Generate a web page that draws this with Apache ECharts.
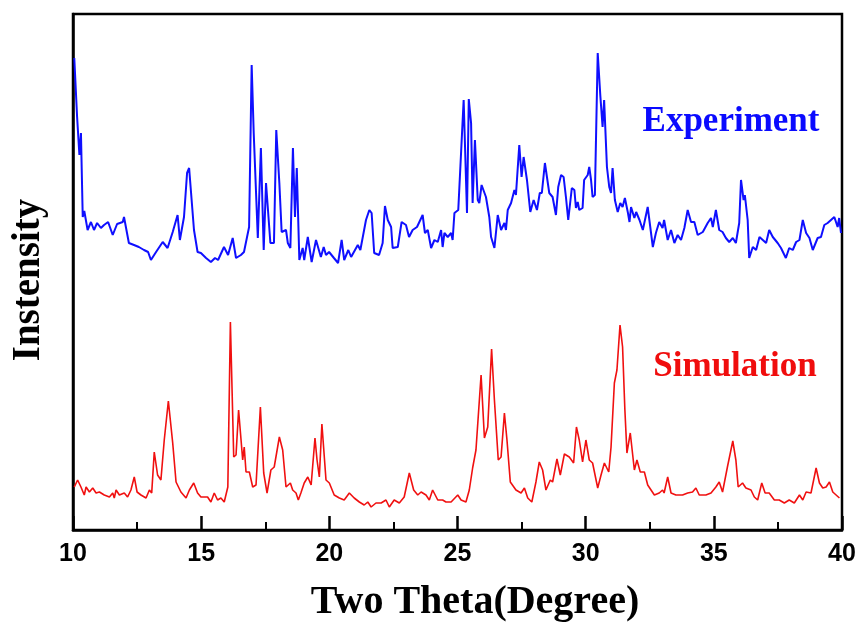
<!DOCTYPE html>
<html>
<head>
<meta charset="utf-8">
<script src="https://cdn.jsdelivr.net/npm/echarts@6/dist/echarts.min.js"></script>
<style>html,body{margin:0;padding:0;background:#fff}#c{width:860px;height:627px}</style>
</head>
<body>
<div id="c"></div>
<script>
// Two-theta (degree) tick labels
var xTicks = [10, 15, 20, 25, 30, 35, 40];

// Experiment pattern: [2theta, intensity (a.u.)]
var experiment = [
[10.05,472],[10.16,413],[10.25,375],[10.31,397],[10.38,313],[10.44,319],[10.57,300],[10.70,308],[10.82,300],[10.94,307],
[11.09,302],[11.21,305],[11.37,308],[11.55,295],[11.72,306],[11.94,308],[11.99,313],[12.18,287],[12.38,285],[12.57,283],
[12.77,280],[12.93,278],[13.04,270],[13.24,278],[13.50,288],[13.69,282],[13.89,298],[14.08,315],[14.17,290],[14.33,313],
[14.45,357],[14.53,362],[14.60,360],[14.72,300],[14.86,278],[14.99,277],[15.19,272],[15.38,268],[15.54,272],[15.66,270],
[15.89,283],[16.05,275],[16.23,292],[16.36,272],[16.55,275],[16.67,278],[16.79,293],[16.87,303],[16.97,465],[17.05,397],
[17.10,395],[17.21,292],[17.33,382],[17.44,280],[17.53,347],[17.70,287],[17.84,287],[17.93,400],[18.05,347],[18.14,298],
[18.31,300],[18.38,287],[18.48,282],[18.58,382],[18.66,313],[18.73,362],[18.83,270],[18.96,282],[19.02,270],[19.16,293],
[19.31,268],[19.48,290],[19.67,273],[19.78,283],[19.87,275],[19.99,278],[20.18,272],[20.34,267],[20.48,290],[20.58,270],
[20.74,280],[20.85,273],[21.11,285],[21.21,280],[21.43,310],[21.56,320],[21.65,317],[21.75,277],[21.94,275],[22.08,287],
[22.17,324],[22.28,310],[22.41,303],[22.47,282],[22.67,283],[22.82,308],[22.99,305],[23.11,293],[23.25,300],[23.42,303],
[23.64,315],[23.73,297],[23.84,300],[23.97,282],[24.10,290],[24.23,288],[24.36,300],[24.42,283],[24.49,297],[24.62,293],
[24.75,297],[24.81,290],[24.88,317],[25.03,320],[25.24,430],[25.37,317],[25.44,431],[25.53,407],[25.59,327],[25.68,390],
[25.79,330],[25.85,327],[25.94,345],[26.11,333],[26.24,313],[26.31,293],[26.44,282],[26.57,315],[26.70,300],[26.83,307],
[26.89,300],[26.96,320],[27.09,327],[27.22,340],[27.28,335],[27.41,385],[27.50,353],[27.58,373],[27.71,350],[27.84,318],
[27.97,330],[28.10,320],[28.21,337],[28.29,337],[28.41,367],[28.58,337],[28.71,333],[28.84,315],[28.93,343],[29.04,355],
[29.14,353],[29.23,333],[29.32,310],[29.46,342],[29.56,340],[29.62,322],[29.69,328],[29.75,320],[29.88,322],[29.94,350],
[30.08,355],[30.14,363],[30.21,350],[30.27,333],[30.36,335],[30.47,477],[30.57,435],[30.66,403],[30.72,430],[30.83,363],
[30.92,343],[30.99,337],[31.05,362],[31.14,330],[31.25,318],[31.35,327],[31.44,323],[31.53,332],[31.65,317],[31.71,308],
[31.77,323],[31.90,312],[31.97,318],[32.10,310],[32.23,300],[32.42,323],[32.62,283],[32.74,297],[32.87,308],[33.00,302],
[33.06,310],[33.20,290],[33.33,300],[33.46,287],[33.59,295],[33.72,290],[33.85,302],[33.98,320],[34.11,308],[34.24,308],
[34.37,295],[34.57,298],[34.76,307],[34.89,312],[34.96,303],[35.08,320],[35.21,300],[35.34,298],[35.47,292],[35.60,288],
[35.74,292],[35.86,287],[35.99,307],[36.06,350],[36.16,330],[36.21,335],[36.32,310],[36.38,272],[36.52,283],[36.65,280],
[36.78,293],[36.91,290],[37.04,287],[37.16,300],[37.30,293],[37.49,287],[37.62,282],[37.81,272],[37.94,282],[38.08,280],
[38.21,288],[38.34,290],[38.47,310],[38.60,297],[38.73,292],[38.86,280],[39.05,292],[39.18,293],[39.31,305],[39.44,307],
[39.57,310],[39.70,313],[39.83,303],[39.89,312],[39.96,297]
];

// Simulation pattern: [2theta, intensity (a.u.)]
var simulation = [
[10.05,43],[10.18,50],[10.31,43],[10.44,35],[10.51,43],[10.64,38],[10.77,42],[10.90,37],[11.03,38],[11.22,35],
[11.42,33],[11.55,37],[11.61,32],[11.68,40],[11.81,35],[12.00,37],[12.13,33],[12.26,40],[12.39,53],[12.50,38],
[12.65,35],[12.85,32],[12.98,40],[13.07,37],[13.17,78],[13.30,55],[13.43,50],[13.56,90],[13.72,129],[13.89,87],
[14.02,48],[14.21,38],[14.41,32],[14.54,40],[14.71,47],[14.86,37],[14.99,33],[15.25,33],[15.38,28],[15.51,37],
[15.64,30],[15.77,32],[15.90,28],[16.04,43],[16.14,208],[16.27,73],[16.36,75],[16.46,120],[16.62,70],[16.68,83],
[16.75,58],[16.88,58],[17.01,43],[17.14,45],[17.31,123],[17.44,57],[17.57,37],[17.72,60],[17.85,63],[18.05,93],
[18.18,80],[18.31,43],[18.48,47],[18.57,40],[18.70,37],[18.79,30],[18.89,37],[19.02,47],[19.16,53],[19.29,45],
[19.44,92],[19.52,70],[19.61,53],[19.71,106],[19.87,50],[20.00,47],[20.19,35],[20.39,32],[20.58,30],[20.78,37],
[20.97,32],[21.17,28],[21.36,25],[21.50,28],[21.63,23],[21.82,27],[22.02,27],[22.21,30],[22.34,23],[22.53,30],
[22.73,27],[22.92,33],[23.12,57],[23.29,40],[23.45,35],[23.58,38],[23.77,35],[23.90,30],[24.03,40],[24.23,30],
[24.42,30],[24.55,28],[24.75,28],[25.01,35],[25.14,30],[25.33,28],[25.46,40],[25.59,62],[25.72,80],[25.92,155],
[26.05,92],[26.18,103],[26.33,181],[26.44,130],[26.59,70],[26.70,73],[26.83,117],[26.93,90],[27.06,48],[27.28,40],
[27.48,37],[27.61,42],[27.74,32],[27.90,28],[28.06,48],[28.19,68],[28.32,60],[28.45,40],[28.62,50],[28.71,48],
[28.88,71],[29.01,55],[29.17,76],[29.36,73],[29.53,67],[29.64,103],[29.75,90],[29.88,68],[30.01,90],[30.14,70],
[30.27,67],[30.47,42],[30.60,55],[30.73,67],[30.90,58],[30.99,83],[31.12,147],[31.22,160],[31.34,205],[31.44,183],
[31.53,120],[31.61,77],[31.74,97],[31.90,60],[32.00,70],[32.13,58],[32.29,58],[32.42,45],[32.55,40],[32.68,35],
[32.87,37],[33.00,40],[33.06,37],[33.20,53],[33.33,37],[33.52,35],[33.78,35],[33.98,37],[34.17,38],[34.30,42],
[34.43,35],[34.69,35],[34.89,37],[35.08,43],[35.21,48],[35.34,38],[35.53,63],[35.74,89],[35.86,70],[35.95,43],
[36.12,47],[36.25,42],[36.45,40],[36.58,33],[36.71,30],[36.87,47],[37.00,37],[37.16,37],[37.36,30],[37.55,30],
[37.75,27],[37.94,30],[38.14,27],[38.34,35],[38.47,30],[38.60,38],[38.79,37],[38.99,62],[39.12,47],[39.25,42],
[39.38,43],[39.51,48],[39.64,38],[39.77,35],[39.90,32]
];

var xTitle = 'Two Theta(Degree)';
var yTitle = 'Instensity';
var seriesNames = ['Experiment', 'Simulation'];

var chart = echarts.init(document.getElementById('c'), null, {renderer: 'canvas'});
var serif = '"Liberation Serif","Times New Roman",serif';
chart.setOption({
  animation: false,
  backgroundColor: '#ffffff',
  grid: {left: 73, right: 18, top: 14, bottom: 97, show: true, borderColor: '#000', borderWidth: 2.5, backgroundColor: 'transparent'},
  xAxis: {
    type: 'value', min: xTicks[0], max: xTicks[xTicks.length - 1], interval: 5,
    axisLine: {show: true, onZero: false, lineStyle: {color: '#000', width: 2.5}},
    axisTick: {show: true, inside: true, length: 14, lineStyle: {color: '#000', width: 2.5}},
    minorTick: {show: true, splitNumber: 2, length: 8, lineStyle: {color: '#000', width: 2}},
    splitLine: {show: false},
    axisLabel: {show: true, color: '#000', fontSize: 25, fontWeight: 'bold', margin: 12,
      fontFamily: '"Liberation Sans Narrow","Arial Narrow","Liberation Sans",Arial,sans-serif',
      formatter: function (v) { return xTicks.indexOf(v) >= 0 ? String(v) : ''; }}
  },
  yAxis: {
    type: 'value', min: 0, max: 516,
    axisLine: {show: true, lineStyle: {color: '#000', width: 2.5}},
    axisTick: {show: false}, axisLabel: {show: false}, splitLine: {show: false}
  },
  graphic: [
    {type: 'text', x: 475, y: 603, style: {text: xTitle, font: 'bold 40px ' + serif, fill: '#000', align: 'center', verticalAlign: 'middle'}},
    {type: 'text', x: 29, y: 280, rotation: Math.PI / 2, style: {text: yTitle, font: 'bold 39px ' + serif, fill: '#000', align: 'center', verticalAlign: 'middle'}},
    {type: 'text', x: 731, y: 122, style: {text: seriesNames[0], font: 'bold 35px ' + serif, fill: '#0a0aff', align: 'center', verticalAlign: 'middle'}},
    {type: 'text', x: 735, y: 367, style: {text: seriesNames[1], font: 'bold 35px ' + serif, fill: '#f00d0d', align: 'center', verticalAlign: 'middle'}}
  ],
  series: [
    {name: seriesNames[0], type: 'line', data: experiment, showSymbol: false, symbol: 'none',
      lineStyle: {color: '#0f0fff', width: 2}, z: 3},
    {name: seriesNames[1], type: 'line', data: simulation, showSymbol: false, symbol: 'none',
      lineStyle: {color: '#f01010', width: 1.6}, z: 3}
  ]
});
</script>
</body>
</html>
